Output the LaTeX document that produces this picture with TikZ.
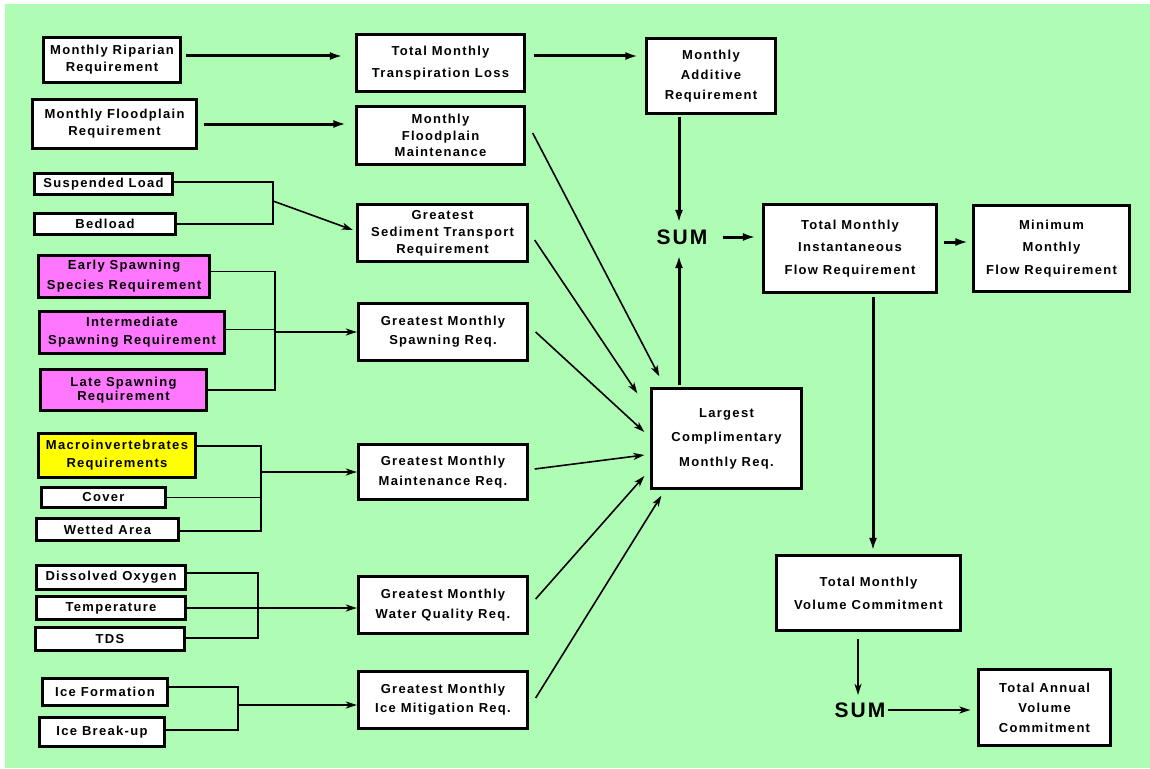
\documentclass[tikz,border=0pt]{standalone}
\usepackage{fontspec}
\setmainfont{Liberation Sans}[LetterSpace=10]
\usetikzlibrary{arrows.meta,calc}
\definecolor{bggreen}{RGB}{175,253,180}
\definecolor{spawnpink}{RGB}{255,119,255}
\definecolor{macroyellow}{RGB}{255,255,0}

\begin{document}
\begin{tikzpicture}[x=1pt,y=-1pt,
  box/.style={draw=black, line width=3.3pt, fill=white, align=center, inner sep=0pt},
  ls/.style={font=\bfseries\fontsize{13}{#1}\selectfont},
  ls/.default=16,
  wh/.style 2 args={minimum width=#1pt, minimum height=#2pt},
  thk/.style={line width=3pt, -{Latex[length=13pt,width=8pt]}},
  thn/.style={line width=1.6pt, -{Stealth[length=11pt,width=7pt,inset=3pt]}},
  brk/.style={line width=1.5pt},
  sumtxt/.style={font=\bfseries\fontsize{21}{21}\selectfont, inner sep=0pt}
]
\useasboundingbox (0,0) rectangle (1150,768);
\fill[white] (0,0) rectangle (1150,768);
\fill[bggreen] (5,4) rectangle (1150,768);

% input requirements (left column)
\node[box, ls=17, wh={137}{45}] (rip) at (112,60) {Monthly Riparian\\Requirement};
\node[box, ls=17, wh={164}{49}] (fpr) at (114.5,124) {Monthly Floodplain\\Requirement};
\node[box, ls, wh={138}{21}] (susp) at (103.5,184) {Suspended Load};
\node[box, ls, wh={141}{21}] (bed) at (105,224) {Bedload};
\node[box, ls=20, wh={171}{42}, fill=spawnpink] (early) at (124,276.5) {Early Spawning\\Species Requirement};
\node[box, ls=18, wh={185}{42}, fill=spawnpink] (inter) at (132,332.5) {Intermediate\\Spawning Requirement};
\node[box, ls=14, wh={166}{41}, fill=spawnpink] (late) at (123.5,390) {Late Spawning\\Requirement};
\node[box, ls=18, wh={157}{44}, fill=macroyellow] (macro) at (117,455.5) {Macroinvertebrates\\Requirements};
\node[box, ls, wh={124}{20}] (cover) at (103.5,497.5) {Cover};
\node[box, ls, wh={142}{22}] (wet) at (107.5,529.5) {Wetted Area};
\node[box, ls, wh={149}{24}] (do) at (111,577.5) {Dissolved Oxygen};
\node[box, ls, wh={149}{23}] (temp) at (111,608) {Temperature};
\node[box, ls, wh={149}{23}] (tds) at (110,639) {TDS};
\node[box, ls, wh={125}{27}] (icef) at (105,692) {Ice Formation};
\node[box, ls, wh={125}{29}] (iceb) at (102,732) {Ice Break-up};

% intermediate requirements (middle column)
\node[box, ls=22, wh={168}{57}] (tml) at (440.5,63) {Total Monthly\\Transpiration Loss};
\node[box, ls=16.5, wh={168}{58}] (mfm) at (440.5,135.5) {Monthly\\Floodplain\\Maintenance};
\node[box, ls=17, wh={170}{57}] (sed) at (442.5,233) {Greatest\\Sediment Transport\\Requirement};
\node[box, ls=19, wh={169}{57}] (spw) at (443,332) {Greatest Monthly\\Spawning Req.};
\node[box, ls=20, wh={169}{55}] (mnt) at (443,472) {Greatest Monthly\\Maintenance Req.};
\node[box, ls=20, wh={169}{57}] (wq) at (443,605) {Greatest Monthly\\Water Quality Req.};
\node[box, ls=19, wh={169}{57}] (ice) at (443,700) {Greatest Monthly\\Ice Mitigation Req.};

% aggregated requirements (right side)
\node[box, ls=20, wh={129}{75}] (mar) at (711,76) {Monthly\\Additive\\Requirement};
\node[box, ls=24.5, wh={150}{100}] (lcmr) at (726.5,438.5) {Largest\\Complimentary\\Monthly Req.};
\node[box, ls=22.5, wh={173}{88}] (tmifr) at (850,248.5) {Total Monthly\\Instantaneous\\Flow Requirement};
\node[box, ls=22.5, wh={156}{86}] (mmfr) at (1051.5,248.5) {Minimum\\Monthly\\Flow Requirement};
\node[box, ls=23, wh={184}{75}] (tmvc) at (868.5,593) {Total Monthly\\Volume Commitment};
\node[box, ls=20, wh={132}{76}] (tavc) at (1044.5,707.5) {Total Annual\\Volume\\Commitment};
\node[sumtxt] (sum1) at (682,237) {SUM};
\node[sumtxt] (sum2) at (860,710) {SUM};

% bracket junctions
\coordinate (j1) at (273,201);
\coordinate (j2) at (275,332);
\coordinate (j3) at (261,472);
\coordinate (j4) at (258,607);
\coordinate (j5) at (238,705);

% sediment bracket
\draw[brk] ([yshift=2pt]susp.east) -| (j1) |- (bed.east);
\draw[thn] (j1) -- ($(sed.west)+(-3,-3)$);
% spawning bracket
\draw[brk] ([yshift=5pt]early.east) -| (j2) |- (late.east);
\draw[brk] ([yshift=3pt]inter.east) -- ([yshift=3pt]inter.east -| j2);
\draw[thn] (j2) -- (spw.west);
% maintenance bracket
\draw[brk] ([yshift=9.5pt]macro.east) -| (j3) |- ([yshift=-1.5pt]wet.east);
\draw[brk] (cover.east) -- (cover.east -| j3);
\draw[thn] (j3) -- (mnt.west);
% water quality bracket
\draw[brk] ([yshift=4.5pt]do.east) -| (j4) |- ([yshift=1pt]tds.east);
\draw[thn] (temp.east) -- (temp.east -| wq.west);
% ice bracket
\draw[brk] ([yshift=5pt]icef.east) -| (j5) |- ([yshift=2pt]iceb.east);
\draw[thn] (j5) -- (j5 -| ice.west);

% top chain
\draw[thk, shorten <=3.5pt, shorten >=12pt] ([yshift=4pt]rip.east) -- ([yshift=4pt]rip.east -| tml.west);
\draw[thk, shorten <=5.5pt, shorten >=8.5pt] (fpr.east) -- (fpr.east -| mfm.west);
\draw[thk, shorten <=7.5pt, shorten >=6.5pt] ([yshift=7pt]tml.east) -- ([yshift=7pt]tml.east -| mar.west);

% into the largest complimentary requirement
\draw[thn] ($(mfm.east)+(6.5,-2.5)$) -- ($(lcmr.north west)+(9.5,-10.5)$);
\draw[thn] ($(sed.east)+(5.5,7)$) -- ($(lcmr.north west)+(-12.5,6.5)$);
\draw[thn] ($(spw.east)+(6.5,0)$) -- ($(lcmr.west)+(-5.5,-6.5)$);
\draw[thn] ($(mnt.east)+(5.5,-3)$) -- ($(lcmr.west)+(-5.5,16.5)$);
\draw[thn] ($(wq.east)+(6.5,-6)$) -- ($(lcmr.west)+(-5.5,37.5)$);
\draw[thn] ($(ice.east)+(6.5,-2)$) -- ($(lcmr.south west)+(11.5,5.5)$);

% summation and flow
\draw[thk, shorten <=2pt, shorten >=6.5pt] ([xshift=-3pt]sum1.north |- mar.south) -- ([xshift=-3pt]sum1.north);
\draw[thk, shorten <=2pt, shorten >=10.5pt] ([xshift=-3pt]sum1.south |- lcmr.north) -- ([xshift=-3pt]sum1.south);
\draw[thk, shorten <=15pt, shorten >=6pt] (sum1.east) -- (sum1.east -| tmifr.west);
\draw[thk, shorten <=6pt, shorten >=3.5pt] ([yshift=6.5pt]tmifr.east) -- ([yshift=6.5pt]tmifr.east -| mmfr.west);
\draw[thk, shorten <=3pt, shorten >=3pt] ([xshift=23pt]tmifr.south) -- ([xshift=23pt]tmifr.south |- tmvc.north);
\draw[thn, shorten <=7pt, shorten >=7.5pt] ([xshift=-10.5pt]tmvc.south) -- ([xshift=-10.5pt]tmvc.south |- sum2.north);
\draw[thn, shorten <=2pt, shorten >=6.5pt] (sum2.east) -- (sum2.east -| tavc.west);
\end{tikzpicture}
\end{document}
